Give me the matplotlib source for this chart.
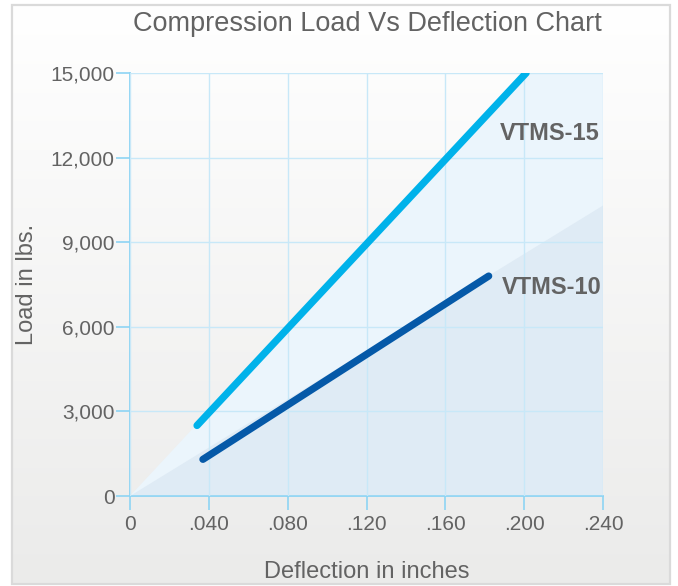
import numpy as np
import matplotlib
matplotlib.use('Agg')
import matplotlib.pyplot as plt
from matplotlib.patches import Rectangle

plt.rcParams['font.family'] = ['Liberation Sans', 'DejaVu Sans']

# data
x_ticks = [0, 0.04, 0.08, 0.12, 0.16, 0.20, 0.24]
x_labels = ['0', '.040', '.080', '.120', '.160', '.200', '.240']
y_ticks = [0, 3000, 6000, 9000, 12000, 15000]
y_labels = ['0', '3,000', '6,000', '9,000', '12,000', '15,000']

vtms15_x = [0.034, 0.201]
vtms15_y = [2500, 15000]
vtms10_x = [0.037, 0.182]
vtms10_y = [1300, 7800]

# shaded envelopes (lines extended back to origin / out to the edge)
env15_x = [0, 0.20, 0.24, 0.24]
env15_y = [0, 15000, 15000, 0]
env10_x = [0, 0.24, 0.24]
env10_y = [0, 10300, 0]

txt = '#636363'
grid_c = '#c8e8f8'
axis_c = '#8dd4f4'

fig = plt.figure(figsize=(6.78, 5.86), dpi=100)

# background gradient inside a light grey frame
bg = fig.add_axes([0, 0, 1, 1], zorder=-10)
bg.set_xlim(0, 678)
bg.set_ylim(586, 0)
bg.axis('off')
grad = np.linspace(0, 1, 256).reshape(-1, 1)
bg.imshow(grad, extent=[12, 670, 584, 5], cmap=matplotlib.colors.LinearSegmentedColormap.from_list(
    'g', ['#ffffff', '#ebebea']), aspect='auto')
bg.add_patch(Rectangle((12, 5), 658, 579, fill=False, edgecolor='#dadada', linewidth=1.6))

ax = fig.add_axes([130 / 678, 1 - 496 / 586, 473 / 678, 423 / 586])
ax.patch.set_alpha(0)

ax.fill(env15_x, env15_y, color='#ebf5fc', zorder=1, linewidth=0)
ax.fill(env10_x, env10_y, color='#dfebf5', zorder=1.5, linewidth=0)

ax.plot(vtms15_x, vtms15_y, color='#00b2ea', linewidth=5.2, solid_capstyle='round', zorder=4)
ax.plot(vtms10_x, vtms10_y, color='#0559a8', linewidth=5.2, solid_capstyle='round', zorder=4)

ax.text(0.2385, 12850, 'VTMS-15', color=txt, fontsize=17, fontweight='bold', ha='right', va='center')
ax.text(0.2395, 7400, 'VTMS-10', color=txt, fontsize=17, fontweight='bold', ha='right', va='center')

ax.set_xlim(0, 0.24)
ax.set_ylim(0, 15000)
ax.set_xticks(x_ticks)
ax.set_xticklabels(x_labels)
ax.set_yticks(y_ticks)
ax.set_yticklabels(y_labels)
ax.grid(True, color=grid_c, linewidth=1, zorder=2)
ax.set_axisbelow(False)
for s in ['top', 'right']:
    ax.spines[s].set_visible(False)
for s in ['left', 'bottom']:
    ax.spines[s].set_color(axis_c)
    ax.spines[s].set_linewidth(1.3)
ax.tick_params(axis='both', colors=axis_c, labelcolor=txt, labelsize=15, length=10, width=1.2)
ax.tick_params(axis='x', pad=4)
ax.tick_params(axis='y', pad=1)

ax.set_xlabel('Deflection in inches', fontsize=17, color=txt, labelpad=19)
ax.set_ylabel('Load in lbs.', fontsize=17, color=txt, labelpad=9)
fig.text(367 / 678, 1 - 24 / 586, 'Compression Load Vs Deflection Chart', fontsize=19.5,
         color=txt, ha='center', va='center')

fig.savefig('out.png', dpi=100)
